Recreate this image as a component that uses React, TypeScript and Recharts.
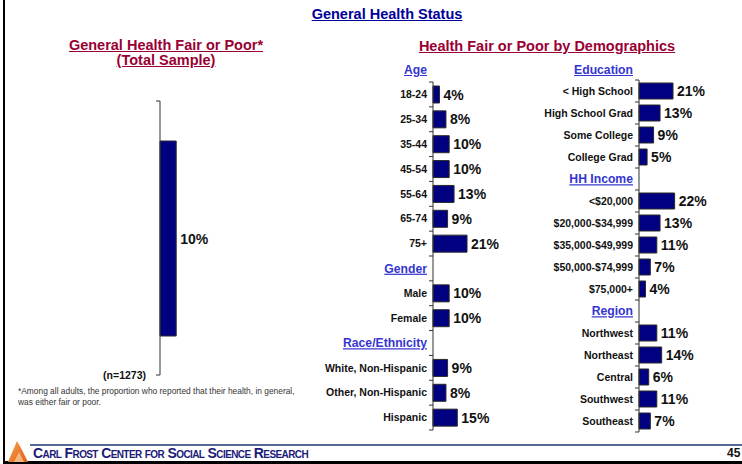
import { BarChart, Bar, XAxis, YAxis, LabelList } from 'recharts';

const totalLabel = '(n=1273)';
const totalValue = [10];

const ageCats = ['18-24', '25-34', '35-44', '45-54', '55-64', '65-74', '75+'];
const ageValues = [4, 8, 10, 10, 13, 9, 21];
const genderCats = ['Male', 'Female'];
const genderValues = [10, 10];
const raceCats = ['White, Non-Hispanic', 'Other, Non-Hispanic', 'Hispanic'];
const raceValues = [9, 8, 15];

const eduCats = ['< High School', 'High School Grad', 'Some College', 'College Grad'];
const eduValues = [21, 13, 9, 5];
const incomeCats = ['<$20,000', '$20,000-$34,999', '$35,000-$49,999', '$50,000-$74,999', '$75,000+'];
const incomeValues = [22, 13, 11, 7, 4];
const regionCats = ['Northwest', 'Northeast', 'Central', 'Southwest', 'Southeast'];
const regionValues = [11, 14, 6, 11, 7];

const FONT = 'Arial, "Liberation Sans", sans-serif';
const BAR_FILL = '#000080';
const HEADING_BLUE = '#3535d0';

type Row = { name: string; value: number | null; heading?: boolean };

const rows = (cats: string[], vals: number[]): Row[] =>
  cats.map((c, i) => ({ name: c, value: vals[i] }));
const heading = (name: string): Row => ({ name, value: null, heading: true });

const middleRows: Row[] = [
  ...rows(ageCats, ageValues),
  heading('Gender'),
  ...rows(genderCats, genderValues),
  heading('Race/Ethnicity'),
  ...rows(raceCats, raceValues),
];

const rightRows: Row[] = [
  ...rows(eduCats, eduValues),
  heading('HH Income'),
  ...rows(incomeCats, incomeValues),
  heading('Region'),
  ...rows(regionCats, regionValues),
];

const totalRows: Row[] = [{ name: totalLabel, value: totalValue[0] }];

function makeTick(band: number, labelAtBottom = false) {
  const headingSet = new Set([...middleRows, ...rightRows].filter((r) => r.heading).map((r) => r.name));
  return (props: any) => {
    const { x, y, payload, index } = props;
    const isHeading = headingSet.has(payload.value);
    const ly = labelAtBottom ? y + band / 2 : y;
    return (
      <g>
        <text
          x={labelAtBottom ? x - 14 : x - 6}
          y={ly}
          dy="0.35em"
          textAnchor="end"
          fontFamily={FONT}
          fontWeight={700}
          fontSize={isHeading ? 12.2 : 10.5}
          fill={isHeading ? HEADING_BLUE : '#111'}
          style={isHeading ? { textDecoration: 'underline' } : undefined}
        >
          {payload.value}
        </text>
        {index === 0 && <line x1={x - 4} x2={x} y1={y - band / 2} y2={y - band / 2} stroke="#333" />}
        <line x1={x - 4} x2={x} y1={y + band / 2} y2={y + band / 2} stroke="#333" />
      </g>
    );
  };
}

const valueLabel = (p: any) => {
  const { x, y, width, height, value } = p;
  if (value == null) return null;
  return (
    <text
      x={x + width + 4}
      y={y + height / 2}
      dy="0.36em"
      fontFamily={FONT}
      fontWeight={700}
      fontSize={14}
      fill="#111"
    >
      {value}%
    </text>
  );
};

interface ColumnProps {
  data: Row[];
  left: number;
  plotTop: number;
  plotHeight: number;
  axisWidth: number;
  barSize: number;
  labelAtBottom?: boolean;
}

const PAD = 12;
const PLOT_W = 81;

function Column({ data, left, plotTop, plotHeight, axisWidth, barSize, labelAtBottom }: ColumnProps) {
  const band = plotHeight / data.length;
  return (
    <div style={{ position: 'absolute', left, top: plotTop - PAD }}>
      <BarChart
        width={axisWidth + PLOT_W}
        height={plotHeight + PAD * 2}
        data={data}
        layout="vertical"
        margin={{ top: PAD, right: 0, bottom: PAD, left: 0 }}
      >
        <XAxis type="number" domain={[0, 50]} hide />
        <YAxis
          type="category"
          dataKey="name"
          width={axisWidth}
          interval={0}
          tickSize={0}
          tickMargin={0}
          tickLine={false}
          axisLine={{ stroke: '#333' }}
          tick={makeTick(band, labelAtBottom)}
        />
        <Bar dataKey="value" fill={BAR_FILL} stroke="#2a2a2a" strokeWidth={1} barSize={barSize} isAnimationActive={false}>
          <LabelList dataKey="value" content={valueLabel} />
        </Bar>
      </BarChart>
    </div>
  );
}

const abs = (style: React.CSSProperties): React.CSSProperties => ({ position: 'absolute', fontFamily: FONT, ...style });

export default function App() {
  return (
    <div style={{ position: 'absolute', left: 0, top: 0, width: 742, height: 464, background: '#fff', overflow: 'hidden' }}>
      {/* slide frame */}
      <div style={{ position: 'absolute', left: 3, top: 0, width: 2, height: 464, background: '#000' }} />
      <div style={{ position: 'absolute', left: 3, top: 461, width: 739, height: 3, background: '#000' }} />

      <div style={abs({ left: 387, top: 6, transform: 'translateX(-50%)', color: '#000099', fontSize: 14.5, fontWeight: 700, textDecoration: 'underline', whiteSpace: 'nowrap' })}>
        General Health Status
      </div>
      <div style={abs({ left: 166, top: 38, transform: 'translateX(-50%)', color: '#990033', fontSize: 14.5, fontWeight: 700, textDecoration: 'underline', whiteSpace: 'nowrap', textAlign: 'center', lineHeight: '15px' })}>
        General Health Fair or Poor*
        <br />
        (Total Sample)
      </div>
      <div style={abs({ left: 547, top: 38, transform: 'translateX(-50%)', color: '#990033', fontSize: 14.5, fontWeight: 700, textDecoration: 'underline', whiteSpace: 'nowrap' })}>
        Health Fair or Poor by Demographics
      </div>
      <div style={abs({ right: 742 - 427, top: 63, color: HEADING_BLUE, fontSize: 12.2, fontWeight: 700, textDecoration: 'underline' })}>Age</div>
      <div style={abs({ right: 742 - 633, top: 63, color: HEADING_BLUE, fontSize: 12.2, fontWeight: 700, textDecoration: 'underline' })}>Education</div>

      <Column data={totalRows} left={40} plotTop={101} plotHeight={274} axisWidth={120} barSize={195} labelAtBottom />
      <Column data={middleRows} left={300} plotTop={82} plotHeight={348} axisWidth={133} barSize={17} />
      <Column data={rightRows} left={520} plotTop={80} plotHeight={352} axisWidth={119} barSize={16} />

      <div style={abs({ left: 18, top: 386, width: 285, fontSize: 8.4, color: '#333', lineHeight: '11px' })}>
        *Among all adults, the proportion who reported that their health, in general, was either fair or poor.
      </div>

      {/* footer */}
      <svg style={{ position: 'absolute', left: 0, top: 438 }} width={742} height={24}>
        <defs>
          <linearGradient id="logo" x1="0" y1="0" x2="1" y2="1">
            <stop offset="0" stopColor="#f7a14a" />
            <stop offset="1" stopColor="#e0601a" />
          </linearGradient>
        </defs>
        <polygon points="8,24 17,3 21,10 28,24" fill="url(#logo)" />
        <polygon points="14,24 19,14 24,24" fill="#fbd3a8" opacity={0.7} />
        <line x1={30} x2={742} y1={7} y2={7} stroke="#1f3a6e" strokeWidth={1.5} />
      </svg>
      <div style={abs({ left: 33, top: 445, fontSize: 14, fontWeight: 700, color: '#1b1b78', fontVariant: 'small-caps', letterSpacing: -0.6, whiteSpace: 'nowrap' })}>
        Carl Frost Center for Social Science Research
      </div>
      <div style={abs({ left: 727, top: 446, fontSize: 12, fontWeight: 700, color: '#111' })}>45</div>
    </div>
  );
}
